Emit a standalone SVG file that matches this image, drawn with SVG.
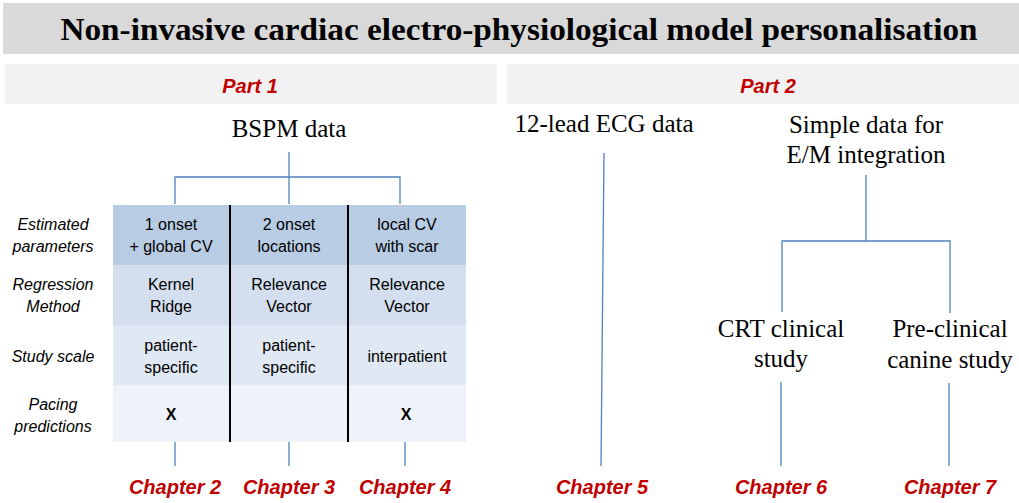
<svg xmlns="http://www.w3.org/2000/svg" width="1019" height="503" viewBox="0 0 1019 503">
<style>
.serif{font-family:"Liberation Serif","Times New Roman",serif;fill:#000}
.lbl{font-family:"Liberation Sans",Arial,sans-serif;font-style:italic;font-size:16px;fill:#000;text-anchor:middle}
.cell{font-family:"Liberation Sans",Arial,sans-serif;font-size:16px;fill:#000;text-anchor:middle}
.red{font-family:"Liberation Sans",Arial,sans-serif;font-style:italic;font-weight:bold;fill:#c00000;text-anchor:middle}
.conn{stroke:#4f81bd;stroke-width:1.3;fill:none}
.div{stroke:#000;stroke-width:2}
</style>
<rect x="0" y="0" width="1019" height="503" fill="#fff"/>
<g id="title">
<rect x="3" y="3" width="1016" height="51" fill="#d9d9d9"/>
<text class="serif" x="519" y="40" font-size="32" font-weight="bold" text-anchor="middle" textLength="917" lengthAdjust="spacingAndGlyphs">Non-invasive cardiac electro-physiological model personalisation</text>
</g>
<g id="part1">
<rect x="5" y="64" width="492" height="40" fill="#f2f2f2"/>
<text class="red" x="250" y="93" font-size="20">Part 1</text>
</g>
<g id="part2">
<rect x="507" y="64" width="512" height="40" fill="#f2f2f2"/>
<text class="red" x="768" y="93" font-size="20">Part 2</text>
</g>
<g id="bspm"><text class="serif" x="289" y="137" font-size="25" text-anchor="middle">BSPM data</text></g>
<g id="ecg"><text class="serif" x="604" y="132" font-size="25" text-anchor="middle">12-lead ECG data</text></g>
<g id="simple"><text class="serif" x="866" y="133" font-size="25" text-anchor="middle">Simple data for</text><text class="serif" x="866" y="163" font-size="25" text-anchor="middle">E/M integration</text></g>
<g id="crt"><text class="serif" x="781" y="337" font-size="25" text-anchor="middle">CRT clinical</text><text class="serif" x="781" y="367" font-size="25" text-anchor="middle">study</text></g>
<g id="canine"><text class="serif" x="950" y="337" font-size="25" text-anchor="middle">Pre-clinical</text><text class="serif" x="950" y="368" font-size="25" text-anchor="middle">canine study</text></g>
<g id="table">
<rect x="113" y="205" width="353" height="60" fill="#b8cce4"/>
<rect x="113" y="265" width="353" height="60" fill="#d3dfee"/>
<rect x="113" y="325" width="353" height="60" fill="#dfe8f3"/>
<rect x="113" y="385" width="353" height="57" fill="#eef3f9"/>
<line class="div" x1="230" y1="205" x2="230" y2="442"/>
<line class="div" x1="348" y1="205" x2="348" y2="442"/>
<text class="lbl" x="53" y="230">Estimated</text><text class="lbl" x="53" y="252">parameters</text>
<text class="lbl" x="53" y="290">Regression</text><text class="lbl" x="53" y="312">Method</text>
<text class="lbl" x="53" y="362">Study scale</text>
<text class="lbl" x="53" y="410">Pacing</text><text class="lbl" x="53" y="432">predictions</text>
<text class="cell" x="171" y="230">1 onset</text><text class="cell" x="171" y="252">+ global CV</text>
<text class="cell" x="289" y="230">2 onset</text><text class="cell" x="289" y="252">locations</text>
<text class="cell" x="407" y="230">local CV</text><text class="cell" x="407" y="252">with scar</text>
<text class="cell" x="171" y="290">Kernel</text><text class="cell" x="171" y="312">Ridge</text>
<text class="cell" x="289" y="290">Relevance</text><text class="cell" x="289" y="312">Vector</text>
<text class="cell" x="407" y="290">Relevance</text><text class="cell" x="407" y="312">Vector</text>
<text class="cell" x="171" y="351">patient-</text><text class="cell" x="171" y="373">specific</text>
<text class="cell" x="289" y="351">patient-</text><text class="cell" x="289" y="373">specific</text>
<text class="cell" x="407" y="362">interpatient</text>
<text class="cell" x="171" y="420" font-weight="bold" font-size="15">X</text>
<text class="cell" x="406" y="420" font-weight="bold" font-size="15">X</text>
</g>
<g id="connectors">
<path class="conn" d="M289 152V177M175 204V177H400V204M289 177V204"/>
<path class="conn" d="M175 442V466M289 442V466M405 442V466"/>
<path class="conn" d="M604 153L601 466"/>
<path class="conn" d="M866 175V241M782 312V241H950V313"/>
<path class="conn" d="M781 382V466M949 383V466"/>
</g>
<g id="chapters">
<text class="red" x="175" y="494" font-size="20">Chapter 2</text>
<text class="red" x="289" y="494" font-size="20">Chapter 3</text>
<text class="red" x="405" y="494" font-size="20">Chapter 4</text>
<text class="red" x="602" y="494" font-size="20">Chapter 5</text>
<text class="red" x="781" y="494" font-size="20">Chapter 6</text>
<text class="red" x="950" y="494" font-size="20">Chapter 7</text>
</g>
</svg>
